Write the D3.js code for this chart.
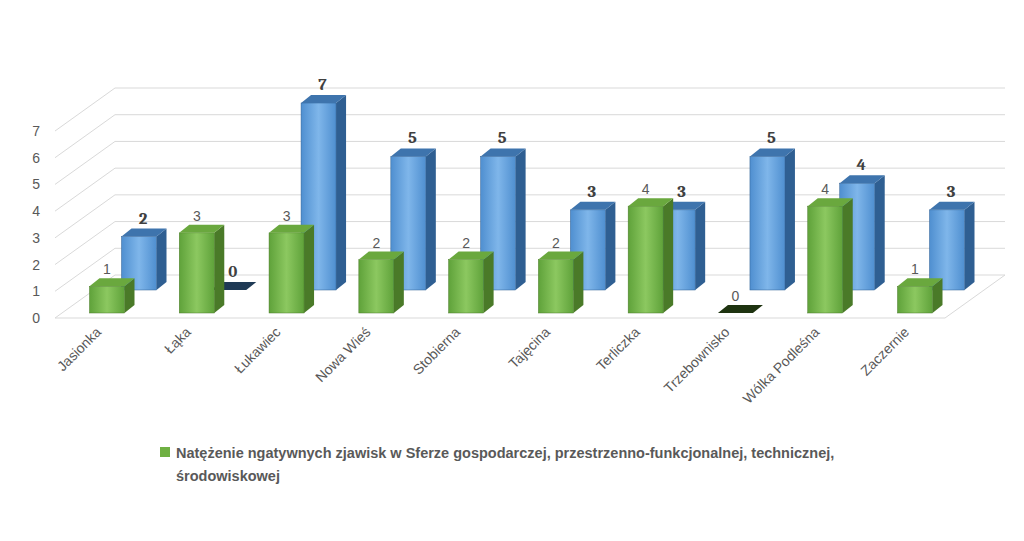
<!DOCTYPE html><html><head><meta charset="utf-8"><script src="https://cdn.jsdelivr.net/npm/d3@7"></script>
<style>body{margin:0;background:#fff}</style></head><body><svg id="c" width="1024" height="541"></svg>
<script>
const categories=["Jasionka","Łąka","Łukawiec","Nowa Wieś","Stobierna","Tajęcina","Terliczka","Trzebownisko","Wólka Podleśna","Zaczernie"];
const greenValues=[1,3,3,2,2,2,4,0,4,1];
const blueValues=[2,0,7,5,5,3,3,5,4,3];
const yTicks=[0,1,2,3,4,5,6,7];
const legendLabel=["Natężenie ngatywnych zjawisk w Sferze gospodarczej, przestrzenno-funkcjonalnej, technicznej,","środowiskowej"];
const svg=d3.select("#c");
const F="Liberation Sans, Arial, sans-serif";
const x=d3.scalePoint().domain(categories).range([107,915]);
const h=d3.scaleLinear().domain([0,7]).range([0,187]);
const DX=60,DY=43;
yTicks.forEach(v=>{const y=318-h(v);
 svg.append("polyline").attr("points",`55,${y} ${55+DX},${y-DY} 1005,${y-DY}`).attr("fill","none").attr("stroke","#d9d9d9");
 svg.append("text").attr("x",40).attr("y",y+5).attr("text-anchor","end").attr("font-family",F).attr("font-size",14).attr("fill","#595959").text(v);});
svg.append("polyline").attr("points",`55,318 945,318 1005,275`).attr("fill","none").attr("stroke","#d9d9d9");
const W=35,sx=10,sy=8;
function bar(cx,base,v,c){const x0=cx-W/2,top=base-h(v);const g=svg.append("g");
 if(v===0){g.append("polygon").attr("points",`${x0},${base} ${x0+W},${base} ${x0+W+sx},${base-sy} ${x0+sx},${base-sy}`).attr("fill",c.zero);return;}
 g.append("polygon").attr("points",`${x0+W},${base} ${x0+W+sx},${base-sy} ${x0+W+sx},${top-sy} ${x0+W},${top}`).attr("fill",c.side);
 g.append("rect").attr("x",x0).attr("y",top).attr("width",W).attr("height",h(v)).attr("fill",c.front).attr("stroke",c.side).attr("stroke-width",0.5);
 g.append("polygon").attr("points",`${x0},${top} ${x0+W},${top} ${x0+W+sx},${top-sy} ${x0+sx},${top-sy}`).attr("fill",c.top);}
const defs=svg.append("defs");
[["gb","#4f8fd0","#7fb6ea"],["gg","#5fa23a","#8cc860"]].forEach(([id,a,b])=>{const lg=defs.append("linearGradient").attr("id",id);lg.append("stop").attr("offset",0).attr("stop-color",a);lg.append("stop").attr("offset",0.5).attr("stop-color",b);lg.append("stop").attr("offset",1).attr("stop-color",a);});
const blue={front:"url(#gb)",side:"#2f5f92",top:"#3e74ad",zero:"#1f3a55"};
const green={front:"url(#gg)",side:"#4a7a28",top:"#6aa83e",zero:"#1e3310"};
categories.forEach((c,i)=>{const cx=x(c)+32,v=blueValues[i];bar(cx,290,v,blue);
 svg.append("text").attr("x",cx+4).attr("y",290-h(v)-13).attr("text-anchor","middle").attr("font-family","Cambria, Caladea, DejaVu Serif, serif").attr("font-weight","bold").attr("font-size",17).attr("fill","#404040").text(v);});
categories.forEach((c,i)=>{const cx=x(c),v=greenValues[i];bar(cx,313,v,green);
 svg.append("text").attr("x",cx).attr("y",313-h(v)-12).attr("text-anchor","middle").attr("font-family",F).attr("font-size",14).attr("fill","#595959").text(v);
 svg.append("text").attr("transform",`translate(${cx-5},${333}) rotate(-45)`).attr("text-anchor","end").attr("font-family",F).attr("font-size",14).attr("fill","#595959").text(c);});
svg.append("rect").attr("x",160).attr("y",447).attr("width",10).attr("height",10).attr("fill","#6fb043");
legendLabel.forEach((t,i)=>svg.append("text").attr("x",176).attr("y",458+i*23).attr("font-family",F).attr("font-weight","bold").attr("font-size",14.5).attr("fill","#595959").text(t));
</script></body></html>
